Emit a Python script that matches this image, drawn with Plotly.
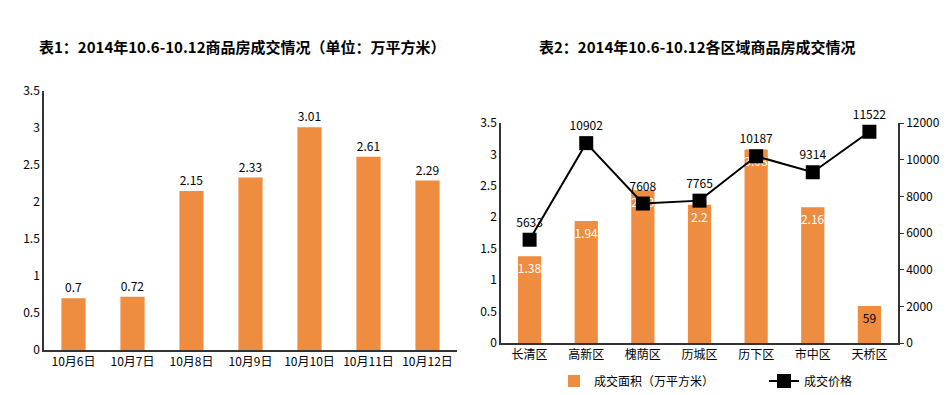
import plotly.graph_objects as go

# ---- data ----
days = ["10月6日", "10月7日", "10月8日", "10月9日", "10月10日", "10月11日", "10月12日"]
day_area = [0.7, 0.72, 2.15, 2.33, 3.01, 2.61, 2.29]

districts = ["长清区", "高新区", "槐荫区", "历城区", "历下区", "市中区", "天桥区"]
district_area = [1.38, 1.94, 2.43, 2.2, 3.08, 2.16, 0.59]
district_area_labels = ["1.38", "1.94", "2.43", "2.2", "3.08", "2.16", "59"]
district_price = [5633, 10902, 7608, 7765, 10187, 9314, 11522]

title1 = "表1：2014年10.6-10.12商品房成交情况（单位：万平方米）"
title2 = "表2：2014年10.6-10.12各区域商品房成交情况"

ORANGE = "#EE8C3F"
FONT = "Noto Sans CJK SC"
W, H, OFF = 949, 395, 8  # page body margin offset


def px(x):
    return (x - OFF) / W


def py(y):
    return 1 - (y - OFF) / H


fig = go.Figure()

fig.add_trace(go.Bar(
    x=days, y=day_area, xaxis="x", yaxis="y",
    marker=dict(color=ORANGE, line=dict(width=0)),
    text=[str(v) for v in day_area], textposition="outside",
    textfont=dict(color="black", size=12, family=FONT),
    cliponaxis=False, showlegend=False,
))

fig.add_trace(go.Bar(
    x=districts, y=district_area, xaxis="x2", yaxis="y2",
    name="成交面积（万平方米）",
    marker=dict(color=ORANGE, line=dict(width=0)),
    text=district_area_labels, textposition="inside", insidetextanchor="end",
    textfont=dict(color=["white"] * 6 + ["black"], size=12, family=FONT),
    textangle=0, constraintext="none",
))

fig.add_trace(go.Scatter(
    x=districts, y=district_price, xaxis="x2", yaxis="y3",
    name="成交价格", mode="lines+markers+text",
    line=dict(color="black", width=2),
    marker=dict(symbol="square", size=14, color="black"),
    text=[str(v) for v in district_price], textposition="top center",
    textfont=dict(color="black", size=12, family=FONT),
    cliponaxis=False,
))

axis_common = dict(showgrid=False, zeroline=False, linecolor="#333", linewidth=1.5,
                   automargin=False, tickangle=0,
                   tickfont=dict(size=12, color="black", family=FONT))

fig.update_layout(
    width=W, height=H,
    margin=dict(l=0, r=0, t=0, b=0, autoexpand=False),
    paper_bgcolor="white", plot_bgcolor="white",
    font=dict(family=FONT, color="black"),
    bargap=0.59,
    uniformtext=dict(minsize=12, mode="show"),
    xaxis=dict(domain=[px(44), px(457)], anchor="y", showline=True, ticks="", **axis_common),
    yaxis=dict(domain=[py(350), py(91)], anchor="x", range=[0, 3.5], dtick=0.5, showline=True,
               ticks="", **axis_common),
    xaxis2=dict(domain=[px(501), px(898)], anchor="y2", showline=True, ticks="", **axis_common),
    yaxis2=dict(domain=[py(343), py(123)], anchor="x2", range=[0, 3.5], dtick=0.5,
                showline=True, ticks="", **axis_common),
    yaxis3=dict(overlaying="y2", anchor="x2", side="right", range=[0, 12000], dtick=2000,
                tickformat="d", showline=True, ticks="outside", ticklen=4, tickcolor="#333",
                **axis_common),
    legend=dict(orientation="h", x=px(554), y=py(381), xanchor="left", yanchor="middle",
                font=dict(size=12, family=FONT), bgcolor="rgba(0,0,0,0)",
                itemwidth=30, tracegroupgap=0, entrywidth=165),
    annotations=[
        dict(text="<b>" + title1 + "</b>", x=px(242), y=py(47), xref="paper", yref="paper",
             showarrow=False, font=dict(size=15, family=FONT, color="black"), xanchor="center", yanchor="middle"),
        dict(text="<b>" + title2 + "</b>", x=px(697), y=py(47), xref="paper", yref="paper",
             showarrow=False, font=dict(size=15, family=FONT, color="black"), xanchor="center", yanchor="middle"),
    ],
)

fig.write_html("out.html")
